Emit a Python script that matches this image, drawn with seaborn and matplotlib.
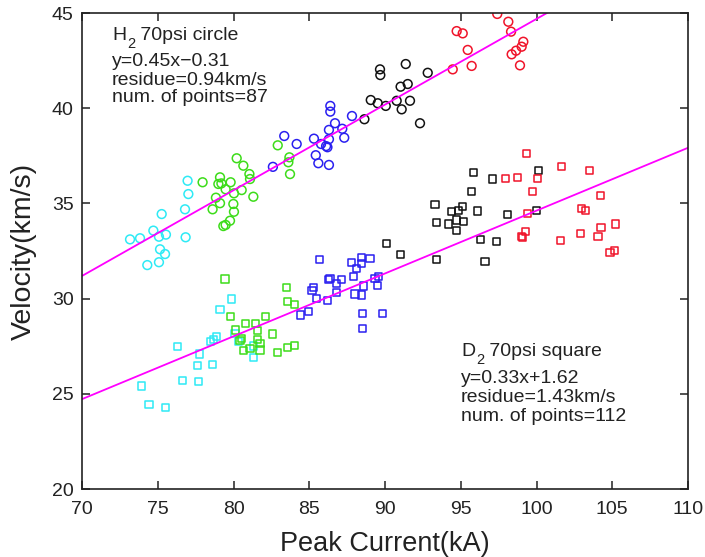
import numpy as np
import pandas as pd
import matplotlib
matplotlib.use("Agg")
import matplotlib.pyplot as plt
import seaborn as sns

# ---------------- data ----------------
# H2 (circles)
h2_cyan_x = [73.17, 73.83, 74.71, 75.26, 75.08, 75.54, 75.15, 75.48, 74.31, 75.08, 76.80, 76.84, 77.02, 76.97]
h2_cyan_y = [33.11, 33.17, 33.57, 34.44, 33.25, 33.36, 32.59, 32.34, 31.76, 31.91, 34.69, 33.22, 35.49, 36.19]
h2_green_x = [77.96, 79.11, 79.00, 79.20, 79.81, 79.48, 80.21, 80.65, 81.05, 81.09, 80.03, 80.54, 81.31,
              78.84, 79.11, 78.62, 79.99, 80.03, 79.77, 79.48, 79.33, 82.92, 83.69, 83.62, 83.73]
h2_green_y = [36.11, 36.37, 36.02, 36.05, 36.11, 35.74, 37.37, 36.98, 36.54, 36.28, 35.53, 35.70, 35.35,
              35.30, 35.01, 34.69, 34.97, 34.56, 34.09, 33.87, 33.81, 38.05, 37.42, 37.16, 36.54]
h2_blue_x = [82.60, 83.35, 84.17, 85.31, 85.78, 86.11, 86.20, 86.30, 86.30, 86.70, 87.18, 87.31,
             86.39, 86.39, 87.82, 85.43, 85.60, 86.30]
h2_blue_y = [36.92, 38.54, 38.12, 38.40, 38.12, 38.01, 37.95, 38.37, 38.86, 39.21, 38.92, 38.45,
             40.12, 39.82, 39.59, 37.53, 37.11, 37.02]
h2_black_x = [88.64, 89.06, 89.52, 90.05, 89.67, 89.69, 91.37, 92.82, 91.03, 91.50, 90.77, 91.65, 91.10, 92.31]
h2_black_y = [39.42, 40.43, 40.26, 40.12, 42.04, 41.74, 42.32, 41.86, 41.13, 41.27, 40.39, 40.39, 39.94, 39.21]
h2_red_x = [94.73, 95.13, 97.41, 98.14, 98.32, 95.46, 99.13, 99.02, 98.65, 98.36, 98.91, 95.72, 94.47]
h2_red_y = [44.05, 43.93, 44.95, 44.54, 44.02, 43.06, 43.49, 43.23, 43.02, 42.83, 42.25, 42.22, 42.04]

# D2 (squares)
d2_cyan_x = [79.88, 79.11, 76.32, 77.74, 77.61, 78.62, 76.62, 77.68, 73.94, 74.42, 75.54, 78.89, 78.71,
             78.50, 80.10, 80.30, 81.31, 81.35]
d2_cyan_y = [29.98, 29.44, 27.47, 27.09, 26.51, 26.55, 25.69, 25.64, 25.41, 24.46, 24.27, 28.00, 27.83,
             27.75, 28.17, 27.75, 27.51, 26.92]
d2_green_x = [79.44, 83.51, 83.55, 84.01, 79.83, 80.80, 81.46, 82.13, 80.15, 81.57, 82.56, 80.50, 80.43,
              81.60, 81.75, 80.69, 81.09, 81.75, 82.89, 83.55, 84.01]
d2_green_y = [31.03, 30.59, 29.84, 29.70, 29.05, 28.70, 28.70, 29.05, 28.35, 28.31, 28.14, 27.91, 27.82,
              27.83, 27.62, 27.26, 27.39, 27.30, 27.18, 27.44, 27.56]
d2_blue_x = [85.66, 87.80, 88.46, 89.01, 88.46, 88.13, 87.95, 86.37, 87.14, 86.77, 86.81, 85.27, 85.18,
             85.45, 86.19, 88.02, 88.46, 88.61, 89.34, 89.58, 89.52, 88.53, 89.85, 88.53, 84.94, 84.44, 86.26]
d2_blue_y = [32.06, 31.91, 32.17, 32.12, 31.85, 31.59, 31.15, 31.07, 31.01, 30.77, 30.31, 30.59, 30.41,
             30.01, 29.89, 30.24, 30.19, 30.66, 31.07, 31.15, 30.71, 29.23, 29.23, 28.44, 29.31, 29.14, 31.00]
d2_black_x = [95.83, 97.11, 95.68, 93.30, 94.40, 94.84, 95.10, 96.12, 93.41, 94.18, 94.73, 95.17, 94.69,
              98.07, 96.32, 97.37, 93.37, 96.60, 90.07, 91.04, 100.12, 99.97]
d2_black_y = [36.61, 36.28, 35.61, 34.92, 34.56, 34.62, 34.83, 34.60, 33.99, 33.92, 34.13, 34.04, 33.57,
              34.44, 33.11, 33.02, 32.06, 31.97, 32.87, 32.33, 36.75, 34.65]
d2_red_x = [99.37, 101.62, 103.47, 97.94, 98.73, 100.08, 99.75, 104.24, 99.39, 102.98, 103.25, 99.26,
            99.04, 99.10, 101.57, 102.89, 104.06, 104.26, 105.23, 104.85, 105.12]
d2_red_y = [37.63, 36.93, 36.72, 36.30, 36.35, 36.30, 35.64, 35.43, 34.48, 34.74, 34.65, 33.53,
            33.25, 33.20, 33.04, 33.43, 33.25, 33.72, 33.92, 32.43, 32.55]

# fits
h2_slope, h2_intercept = 0.45, -0.31
d2_slope, d2_intercept = 0.33, 1.62
fit_x = [70, 110]

x_ticks = [70, 75, 80, 85, 90, 95, 100, 105, 110]
y_ticks = [20, 25, 30, 35, 40, 45]

h2_title = ("H", "2", " 70psi circle")
d2_title = ("D", "2", " 70psi square")
h2_text = ["y=0.45x\u22120.31", "residue=0.94km/s", "num. of points=87"]
d2_text = ["y=0.33x+1.62", "residue=1.43km/s", "num. of points=112"]

palette = {"cyan": "#2eeaf5", "green": "#3ddc1a", "blue": "#2a1ff0", "black": "#111111", "red": "#f0142a"}


def build(groups):
    frames = []
    for name, xs, ys in groups:
        frames.append(pd.DataFrame({"current": xs, "velocity": ys, "group": name}))
    return pd.concat(frames, ignore_index=True)


h2 = build([("cyan", h2_cyan_x, h2_cyan_y), ("green", h2_green_x, h2_green_y),
            ("blue", h2_blue_x, h2_blue_y), ("black", h2_black_x, h2_black_y),
            ("red", h2_red_x, h2_red_y)])
d2 = build([("cyan", d2_cyan_x, d2_cyan_y), ("green", d2_green_x, d2_green_y),
            ("blue", d2_blue_x, d2_blue_y), ("black", d2_black_x, d2_black_y),
            ("red", d2_red_x, d2_red_y)])

sns.set_theme(style="white")
plt.rcParams["font.family"] = ["Liberation Sans", "DejaVu Sans"]

fig = plt.figure(figsize=(7.05, 5.57), dpi=100)
ax = fig.add_axes([82 / 705, 1 - 489 / 557, (688 - 82) / 705, (489 - 13) / 557])

sns.scatterplot(data=h2, x="current", y="velocity", hue="group", palette=palette,
                marker="o", s=40, linewidth=1.1, legend=False, ax=ax)
sns.scatterplot(data=d2, x="current", y="velocity", hue="group", palette=palette,
                marker="s", s=26, linewidth=1.1, legend=False, ax=ax)
for coll in ax.collections:
    fc = coll.get_facecolors()
    coll.set_edgecolors(fc)
    coll.set_facecolors("none")

fx = np.array(fit_x, dtype=float)
sns.lineplot(x=fx, y=h2_slope * fx + h2_intercept, color="#ff00ff", linewidth=1.3, ax=ax)
sns.lineplot(x=fx, y=d2_slope * fx + d2_intercept, color="#ff00ff", linewidth=1.3, ax=ax)

ax.set_xlim(70, 110)
ax.set_ylim(20, 45)
ax.set_xticks(x_ticks)
ax.set_yticks(y_ticks)
ax.set_xticklabels([str(t) for t in x_ticks], fontsize=14)
ax.set_yticklabels([str(t) for t in y_ticks], fontsize=14)
ax.tick_params(direction="in", length=6, width=1.1, top=True, right=True,
               bottom=True, left=True, colors="#222222", labelcolor="#222222")
ax.tick_params(axis="x", pad=9)
ax.tick_params(axis="y", pad=6)
for sp in ax.spines.values():
    sp.set_visible(True)
    sp.set_color("#222222")
    sp.set_linewidth(1.2)
ax.set_xlabel("Peak Current(kA)", fontsize=19.5, color="#222222", labelpad=9)
ax.set_ylabel("Velocity(km/s)", fontsize=20.5, color="#222222", labelpad=11)
ax.grid(False)

tfs = 14


def title_with_sub(x, y, parts):
    main, sub, rest = parts
    t1 = ax.text(x, y, main, fontsize=tfs, va="baseline", ha="left", color="#222222")
    fig.canvas.draw()
    bb = t1.get_window_extent()
    inv = ax.transData.inverted()
    x_end = inv.transform((bb.x1, bb.y0))[0]
    t2 = ax.annotate(sub, xy=(x_end, y), xytext=(0.5, -6), textcoords="offset points",
                     fontsize=tfs * 0.75, va="baseline", ha="left", color="#222222")
    fig.canvas.draw()
    bb2 = t2.get_window_extent()
    x_end2 = inv.transform((bb2.x1, bb.y0))[0]
    ax.text(x_end2, y, rest, fontsize=tfs, va="baseline", ha="left", color="#222222")


title_with_sub(71.98, 43.58, h2_title)
for i, line in enumerate(h2_text):
    ax.text(71.98, [42.22, 41.22, 40.33][i], line, fontsize=tfs, va="baseline", ha="left", color="#222222")
title_with_sub(95.02, 26.99, d2_title)
for i, line in enumerate(d2_text):
    ax.text(95.02, [25.57, 24.57, 23.57][i], line, fontsize=tfs, va="baseline", ha="left", color="#222222")

fig.savefig("out.png", dpi=100)
